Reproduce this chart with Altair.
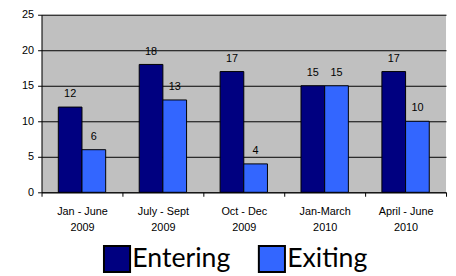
import altair as alt
import pandas as pd

categories = ["Jan - June\n2009", "July - Sept\n2009", "Oct - Dec\n2009", "Jan-March\n2010", "April - June\n2010"]
series = ["Entering", "Exiting"]
entering = [12, 18, 17, 15, 17]
exiting = [6, 13, 4, 15, 10]
colors = ["#000080", "#3366FF"]

rows = []
for c, e, x in zip(categories, entering, exiting):
    rows.append({"period": c, "series": "Entering", "value": e})
    rows.append({"period": c, "series": "Exiting", "value": x})
df = pd.DataFrame(rows)

x = alt.X("period:N", sort=categories, title=None,
          scale=alt.Scale(paddingInner=0, paddingOuter=0),
          axis=alt.Axis(labelAngle=0, labelExpr="split(datum.label, '\\n')", tickBand="extent",
                        labelFontSize=11, labelColor="black", labelFont="Liberation Sans",
                        domainColor="black", tickColor="black", tickSize=4, labelPadding=10,
                        labelLineHeight=16, grid=False))
xo = alt.XOffset("series:N", sort=series, scale=alt.Scale(paddingOuter=0.708, paddingInner=0))
y = alt.Y("value:Q", title=None,
          scale=alt.Scale(domain=[0, 25]),
          axis=alt.Axis(values=[0, 5, 10, 15, 20, 25], labelFontSize=11, labelColor="black",
                        labelFont="Liberation Sans", domainColor="black", tickColor="black",
                        tickSize=4, gridColor="black", gridOpacity=1, grid=True, labelPadding=4))

bars = alt.Chart(df).mark_bar(stroke="black", strokeWidth=1).encode(
    x=x, xOffset=xo, y=y,
    color=alt.Color("series:N", sort=series, title=None,
                    scale=alt.Scale(domain=series, range=colors),
                    legend=alt.Legend(orient="none", direction="horizontal", legendX=62, legendY=233,
                                      symbolType="square", symbolSize=700, symbolStrokeColor="black",
                                      symbolStrokeWidth=2, labelFontSize=27, labelFont="Lato",
                                      labelColor="black", columnPadding=24, labelOffset=1,
                                      symbolOpacity=1)),
)

labels = alt.Chart(df).mark_text(dy=-13, fontSize=11, font="Liberation Sans", color="black").encode(
    x=x, xOffset=xo, y=y, text="value:Q"
)

chart = (bars + labels).properties(
    width=410, height=180,
    background="white",
    padding={"left": 34, "top": 5, "right": 2, "bottom": 82},
    autosize=alt.AutoSizeParams(type="none"),
).configure_view(fill="#C0C0C0", stroke=None).configure_axis(domainWidth=1)

chart.save("out.html", embed_options={"renderer": "svg", "actions": False})
